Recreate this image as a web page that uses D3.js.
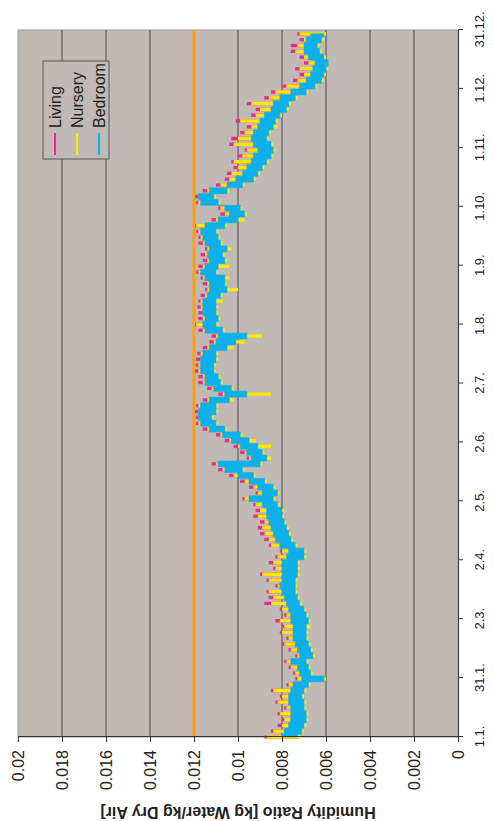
<!DOCTYPE html>
<html>
<head>
<meta charset="utf-8">
<script src="https://cdn.jsdelivr.net/npm/d3@7/dist/d3.min.js"></script>
<style>
  body { margin: 0; background: #fff; }
  svg text { font-family: "Liberation Sans", Arial, sans-serif; fill: #222; }
</style>
</head>
<body>
<div id="chart"></div>
<script>
// humidity ratio values are kept in g/kg, the axis labels show kg/kg
const dateLabels = ["1.1.", "31.1.", "2.3.", "2.4.", "2.5.", "2.6.", "2.7.", "1.8.", "1.9.", "1.10.", "1.11.", "1.12.", "31.12."];
const valueTicks = [0, 2, 4, 6, 8, 10, 12, 14, 16, 18, 20];
const valueLabels = ["0", "0.002", "0.004", "0.006", "0.008", "0.01", "0.012", "0.014", "0.016", "0.018", "0.02"];
const limitValue = 12;
const seriesNames = ["Living", "Nursery", "Bedroom"];
const sampleStep = 3; // days between readings, starting 1.1.

// daily low / high readings, every 3 days
const livingLo = [7.3,7.2,7.0,6.9,6.9,7.0,7.0,7.1,7.0,6.8, 6.05,6.7,6.8,6.9,6.6,6.7,6.8,6.9,6.9,6.9,
  6.8,6.9,7.0,7.2,7.3,7.4,7.4,7.4,7.3,7.3, 7.3,7.0,7.0,7.4,7.6,7.7,7.8,7.9,8.0,8.0,
  8.2,8.4,8.2,8.4,8.8,9.3,9.8,9.1,8.7,8.9, 9.1,9.5,9.9,10.6,11.0,11.2,11.0,11.0,10.4,9.6,
  10.3,10.8,10.9,11.1,11.1,11.0,11.0,10.5,10.1,9.6, 10.7,11.0,10.9,11.0,11.0,11.0,10.8,10.5,10.6,10.6,
  11.0,10.9,10.6,10.7,10.5,10.8,10.9,11.0,10.6,10.0, 9.7,9.9,10.9,11.1,10.5,9.8,9.3,9.1,8.9,8.7,
  8.5,8.4,8.5,8.7,8.6,8.4,8.3,8.1,7.8,7.7, 7.4,6.9,6.5,6.2,6.1,6.0,5.9,6.1,6.3,6.4, 6.2,6.1];
const livingHi = [8.8,8.5,8.2,8.0,8.2,7.9,8.3,8.1,8.5,7.8, 7.4,7.5,7.7,7.9,7.4,7.7,8.0,7.8,8.1,8.0,
  8.3,7.9,8.1,8.8,8.6,8.7,8.3,8.7,9.0,8.4, 8.6,8.3,8.1,8.6,8.8,9.0,9.1,9.0,9.3,9.2,
  9.3,9.8,9.2,9.5,9.9,10.4,10.9,11.2,9.6,9.9, 10.2,10.6,11.0,11.6,11.9,11.9,11.95,11.9,11.6,10.9,
  11.4,11.8,11.8,11.95,11.9,11.9,11.85,11.6,11.3,11.2, 11.8,11.95,11.8,11.8,11.85,11.8,11.7,11.5,11.6,11.7,
  11.9,11.8,11.6,11.7,11.5,11.8,11.8,11.9,11.95,11.2, 10.8,10.9,11.9,11.95,11.6,11.0,10.6,10.5,10.2,10.3,
  10.0,9.7,10.4,10.3,9.9,9.6,10.1,9.4,9.2,9.6, 8.8,8.5,8.0,7.5,7.2,7.4,7.0,7.2,7.6,7.6, 7.2,7.3];
const nurseryLo = [7.2,7.0,6.9,6.8,6.8,6.9,6.9,7.0,6.9,6.7, 6.0,6.6,6.7,6.8,6.5,6.6,6.7,6.8,6.8,6.7,
  6.7,6.8,6.9,7.1,7.2,7.3,7.3,7.3,7.2,7.2, 7.2,6.9,6.9,7.3,7.5,7.6,7.7,7.8,7.9,7.9,
  8.1,8.3,8.1,8.3,8.7,9.2,9.7,8.9,8.5,8.8, 8.5,9.2,9.8,10.5,10.9,11.1,10.9,10.9,10.2,8.5,
  10.2,10.7,10.8,11.0,11.0,10.9,10.9,10.2,9.7,8.9, 10.6,10.9,10.8,10.9,10.9,10.7,10.7,10.0,10.5,10.4,
  10.9,10.4,10.5,10.6,10.3,10.7,10.8,10.9,10.5,9.7, 9.6,9.8,10.8,11.0,10.4,9.7,9.2,9.0,8.8,8.6,
  8.4,8.3,8.4,8.6,8.5,8.2,8.2,8.0,7.7,7.6, 7.3,6.8,6.4,6.1,6.0,5.9,5.85,6.0,6.2,6.3, 6.1,6.0];
const nurseryHi = [8.7,8.4,8.0,7.9,8.1,7.8,8.2,8.0,8.4,7.7, 7.3,7.4,7.6,7.8,7.3,7.6,7.9,7.7,8.0,7.9,
  8.1,7.8,8.0,8.5,8.4,8.6,8.2,8.6,8.9,8.3, 8.4,8.2,8.0,8.5,8.6,8.8,8.9,8.8,9.1,9.0,
  9.2,9.7,9.1,9.3,9.7,10.2,10.7,11.0,9.5,9.7, 10.0,10.4,10.8,11.4,11.8,11.8,11.8,11.8,11.4,10.7,
  11.2,11.6,11.6,11.8,11.8,11.7,11.7,11.4,11.1,11.0, 11.6,11.9,11.6,11.6,11.7,11.7,11.5,11.4,11.4,11.6,
  11.8,11.6,11.4,11.5,11.4,11.6,11.7,11.8,11.9,11.0, 10.6,10.8,11.8,11.8,11.4,10.8,10.4,10.3,10.0,10.2,
  9.8,9.6,10.2,10.0,9.7,9.4,9.9,9.2,9.0,9.4, 8.6,8.3,7.8,7.3,7.0,7.2,6.8,7.0,7.4,7.3, 7.0,7.2];
const bedroomLo = [7.3,7.1,7.0,6.9,6.9,7.0,7.0,7.1,7.0,6.8, 6.1,6.7,6.8,6.9,6.6,6.7,6.8,6.9,6.9,6.9,
  6.8,6.9,7.0,7.2,7.3,7.4,7.4,7.4,7.3,7.3, 7.3,7.0,7.0,7.4,7.6,7.7,7.8,7.9,8.0,8.0,
  8.2,8.4,8.2,8.4,8.8,9.3,9.8,9.0,8.7,8.9, 9.1,9.5,9.9,10.6,11.0,11.2,11.0,11.0,10.4,9.6,
  10.3,10.8,10.9,11.1,11.1,11.0,11.0,10.5,10.1,9.6, 10.7,11.0,10.9,11.0,11.0,11.0,10.8,10.5,10.6,10.6,
  11.0,10.9,10.6,10.7,10.5,10.8,10.9,11.0,10.6,10.0, 9.7,9.9,10.9,11.1,10.5,9.8,9.3,9.1,8.9,8.7,
  8.5,8.4,8.5,8.7,8.6,8.4,8.3,8.1,7.8,7.7, 7.4,6.9,6.5,6.2,6.1,6.0,5.9,6.1,6.3,6.4, 6.2,6.1];
const bedroomHi = [8.0,7.9,7.7,7.6,7.6,7.6,7.7,7.7,7.6,7.5, 7.1,7.2,7.3,7.6,7.2,7.3,7.4,7.5,7.5,7.5,
  7.6,7.6,7.7,7.8,7.9,8.0,8.1,8.0,8.0,8.0, 8.0,7.8,7.7,8.1,8.3,8.4,8.5,8.6,8.7,8.7,
  8.9,9.5,8.9,9.1,9.5,10.0,10.6,10.9,9.4,9.6, 9.9,10.3,10.7,11.3,11.7,11.8,11.8,11.7,11.3,10.6,
  11.1,11.5,11.5,11.7,11.7,11.7,11.6,11.3,11.0,10.9, 11.5,11.6,11.5,11.6,11.6,11.6,11.4,11.3,11.3,11.5,
  11.7,11.5,11.3,11.4,11.3,11.5,11.6,11.7,11.5,10.9, 10.4,10.6,11.7,11.8,11.3,10.5,10.1,9.8,9.6,9.4,
  9.3,9.1,9.3,9.4,9.3,9.1,9.0,8.8,8.5,8.4, 8.1,7.6,7.2,6.9,6.7,6.6,6.5,6.8,7.0,7.0, 6.9,6.7];

const lows = [livingLo, nurseryLo, bedroomLo];
const highs = [livingHi, nurseryHi, bedroomHi];
const colors = ["#ec2a90", "#ffe900", "#0db0ea"];

// the whole chart is laid out sideways (821 x 494) and turned -90 degrees
const W = 821, H = 494;
const margin = { top: 18, right: 30, bottom: 36, left: 84 };

const svg = d3.select("#chart").append("svg")
    .attr("width", H)
    .attr("height", W);

const g = svg.append("g")
    .attr("transform", "translate(0," + W + ") rotate(-90)");

const xScale = d3.scaleLinear()
    .domain([0, 365])
    .range([margin.left, W - margin.right]);

const yScale = d3.scaleLinear()
    .domain([0, 20])
    .range([H - margin.bottom, margin.top]);

const dateTicks = dateLabels.map((d, i) => i * 365 / (dateLabels.length - 1));

// plot background
g.append("rect")
    .attr("x", margin.left)
    .attr("y", margin.top)
    .attr("width", W - margin.left - margin.right)
    .attr("height", H - margin.top - margin.bottom)
    .attr("fill", "#c1b9b6")
    .attr("stroke", "#9c9c9c")
    .attr("stroke-width", 1);

// gridlines
g.append("g")
    .selectAll("line")
    .data(valueTicks.filter(d => d > 0 && d < 20))
    .enter().append("line")
    .attr("x1", margin.left)
    .attr("x2", W - margin.right)
    .attr("y1", d => yScale(d))
    .attr("y2", d => yScale(d))
    .attr("stroke", "#4a4a4a")
    .attr("stroke-width", 1);

// limit line
g.append("line")
    .attr("x1", margin.left)
    .attr("x2", W - margin.right)
    .attr("y1", yScale(limitValue))
    .attr("y2", yScale(limitValue))
    .attr("stroke", "#f9a11b")
    .attr("stroke-width", 3.2);

// series: thin stepped band plus one low-high stroke per reading
const area = d3.area()
    .curve(d3.curveStep)
    .x(d => xScale(d.day))
    .y0(d => yScale(d.lo))
    .y1(d => yScale(d.hi));

seriesNames.forEach((name, s) => {
    const pts = lows[s].map((lo, i) => ({ day: i * sampleStep, lo: lo, hi: highs[s][i] }));
    const sg = g.append("g").attr("class", "series");
    if (s == 2) {
        sg.append("path")
            .datum(pts)
            .attr("fill", colors[s])
            .attr("stroke", colors[s])
            .attr("stroke-width", 0.6)
            .attr("d", area);
    } else {
        sg.selectAll("line")
            .data(pts)
            .enter().append("line")
            .attr("x1", d => xScale(d.day))
            .attr("x2", d => xScale(d.day))
            .attr("y1", d => yScale(d.lo))
            .attr("y2", d => yScale(d.hi))
            .attr("stroke", colors[s])
            .attr("stroke-width", 3.4);
    }
});

// axes
const xAxis = d3.axisBottom(xScale)
    .tickValues(dateTicks)
    .tickFormat((d, i) => dateLabels[i])
    .tickSize(5)
    .tickPadding(12);

const yAxis = d3.axisLeft(yScale)
    .tickValues(valueTicks)
    .tickFormat((d, i) => valueLabels[i])
    .tickSize(5)
    .tickPadding(8);

const gx = g.append("g")
    .attr("transform", "translate(0," + (H - margin.bottom) + ")")
    .call(xAxis);
gx.selectAll("text").style("font-size", "13px");

const gy = g.append("g")
    .attr("transform", "translate(" + margin.left + ",0)")
    .call(yAxis);
gy.selectAll("text").style("font-size", "16px");

g.selectAll(".domain, .tick line").attr("stroke", "#333");

// axis title
g.append("text")
    .attr("transform", "translate(14," + ((margin.top + H - margin.bottom) / 2) + ") rotate(-90)")
    .attr("text-anchor", "middle")
    .style("font-size", "16px")
    .style("font-weight", "bold")
    .text("Humidity Ratio [kg Water/kg Dry Air]");

// legend
const legend = g.append("g")
    .attr("transform", "translate(662,43)");

legend.append("rect")
    .attr("width", 98)
    .attr("height", 66)
    .attr("fill", "#c1b9b6")
    .attr("stroke", "#555")
    .attr("stroke-width", 1);

seriesNames.forEach((name, s) => {
    const row = legend.append("g")
        .attr("transform", "translate(0," + (12 + s * 22) + ")");
    row.append("line")
        .attr("x1", 4).attr("x2", 26)
        .attr("y1", 0).attr("y2", 0)
        .attr("stroke", colors[s])
        .attr("stroke-width", 2);
    row.append("text")
        .attr("x", 31)
        .attr("dy", "0.35em")
        .style("font-size", "16px")
        .text(name);
});
</script>
</body>
</html>
